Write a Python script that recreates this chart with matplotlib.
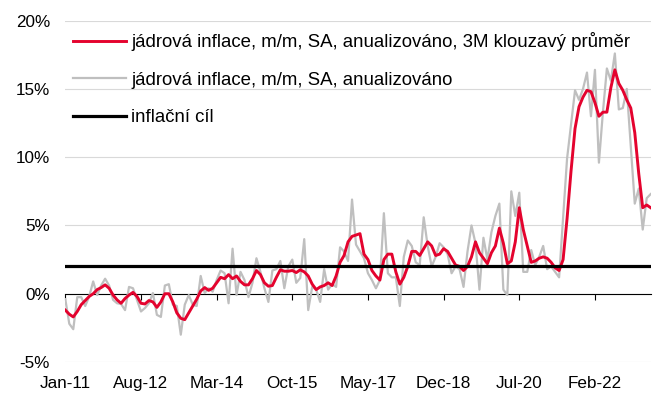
import numpy as np
import pandas as pd
import matplotlib
matplotlib.use('Agg')
import matplotlib.pyplot as plt

# měsíční data, leden 2011 - duben 2023
start_month = '2011-01'

# jádrová inflace, m/m, SA, anualizováno (šedá)
core_mm = [
    -0.4, -2.2, -2.6, -0.25, -0.25, -0.9, -0.2, 0.9, -0.1, 0.6, 1.1, 0.6,      # 2011
    -0.45, -0.7, -0.75, -1.2, 0.5, 0.4, -0.45, -1.3, -1.05, -0.7, 0.05, -1.55, # 2012
    -1.7, 0.6, 0.7, -0.8, -0.9, -3.0, -0.8, -0.1, -0.8, -0.9, 1.3, 0.05,       # 2013
    0.4, 0.15, 1.0, 1.7, 1.5, -0.7, 3.3, -0.1, 1.6, 1.0, -0.25, 0.8,           # 2014
    2.6, 1.6, 0.4, -0.6, 1.7, 1.8, 2.4, 0.4, 2.0, 2.5, 0.8, 1.15,              # 2015
    4.0, -1.2, 0.5, 0.3, -0.6, 1.8, 0.3, 0.7, 0.5, 3.4, 3.1, 2.4,              # 2016
    6.9, 3.6, 3.1, 2.6, 1.5, 1.0, 0.4, 1.0, 5.9, 1.5, 1.2, 1.2,                # 2017
    -0.9, 2.7, 3.9, 3.5, 2.3, 2.1, 5.6, 3.5, 2.0, 2.7, 3.7, 3.4,               # 2018
    2.9, 1.5, 2.0, 1.8, 0.5, 3.1, 5.0, 3.7, 0.3, 4.1, 2.5, 4.5,                # 2019
    5.7, 6.6, 0.3, -0.1, 7.5, 5.7, 7.4, 1.6, 1.6, 3.2, 2.1, 2.7,               # 2020
    3.5, 1.8, 2.0, 1.6, 1.2, 5.5, 9.9, 12.4, 14.9, 14.2, 15.0, 16.2,           # 2021
    13.0, 16.4, 9.6, 13.3, 16.5, 15.6, 17.6, 13.5, 13.6, 15.0, 10.8, 6.6,      # 2022
    7.7, 4.7, 7.0, 7.3,                                                        # 2023
]

# jádrová inflace, m/m, SA, anualizováno, 3M klouzavý průměr (červená)
core_3m = [
    -1.2, -1.5, -1.7, -1.3, -0.8, -0.5, -0.2, 0.0, 0.3, 0.45, 0.65, 0.4,
    -0.1, -0.45, -0.7, -0.35, -0.1, 0.1, -0.2, -0.7, -0.75, -0.5, -0.6, -1.0,
    -0.6, 0.0, 0.0, -0.6, -1.4, -1.8, -1.9, -1.4, -0.9, -0.4, 0.2, 0.45,
    0.25, 0.4, 0.8, 1.2, 1.1, 1.4, 1.1, 1.3, 0.9, 0.65, 0.65, 1.1,
    1.7, 1.4, 0.8, 0.55, 0.6, 1.2, 1.75, 1.65, 1.65, 1.7, 1.55, 1.75,
    1.6, 1.3, 0.7, 0.3, 0.5, 0.6, 0.8, 0.6, 1.3, 2.3, 2.8, 3.8,
    4.2, 4.3, 4.4, 2.9, 2.5, 1.7, 1.3, 1.0, 2.5, 2.9, 2.9, 1.6,
    0.7, 1.2, 2.0, 3.1, 3.1, 2.8, 3.3, 3.8, 3.5, 2.8, 2.9, 3.3,
    3.1, 2.6, 2.1, 2.0, 1.7, 2.0, 2.7, 3.8, 3.0, 2.6, 2.2, 3.0,
    3.5, 4.8, 3.7, 2.2, 2.4, 3.8, 6.3, 4.7, 3.5, 2.3, 2.4, 2.6,
    2.7, 2.6, 2.3, 1.9, 1.7, 2.5, 5.5, 9.0, 12.1, 13.7, 14.4, 14.9,
    14.8, 14.0, 13.0, 13.3, 13.3, 15.1, 16.4, 15.4, 14.9, 14.2, 13.6, 11.8,
    8.8, 6.3, 6.5, 6.3,
]

target_level = 2.0  # inflační cíl ČNB

labels = ['jádrová inflace, m/m, SA, anualizováno, 3M klouzavý průměr',
          'jádrová inflace, m/m, SA, anualizováno',
          'inflační cíl']

months = pd.date_range(start_month, periods=len(core_mm), freq='MS')
x = np.arange(len(months))
target = [target_level] * len(months)

plt.rcParams['font.family'] = ['Liberation Sans', 'DejaVu Sans']
plt.rcParams['font.size'] = 12.3

fig = plt.figure(figsize=(6.57, 4.01), dpi=100)
ax = fig.add_axes([0.0994, 0.0973, 0.8910, 0.8511])

ax.plot(x, core_mm, color='#BFBFBF', lw=1.6, zorder=2, label=labels[1])
ax.plot(x, core_3m, color='#E4032E', lw=2.1, zorder=3, label=labels[0])
ax.plot(x, target, color='black', lw=2.3, zorder=4, label=labels[2])

ax.set_xlim(0, len(months) - 1)
ax.set_ylim(-5, 20)
yt = np.arange(-5, 21, 5)
ax.set_yticks(yt)
ax.set_yticklabels([f'{v}%' for v in yt])
ax.yaxis.grid(True, color='#D9D9D9', lw=0.8)
ax.set_axisbelow(True)

tick_idx = x[::19]
ax.set_xticks(tick_idx)
ax.set_xticklabels([months[i].strftime('%b-%y') for i in tick_idx])

for s in ['top', 'right', 'left']:
    ax.spines[s].set_visible(False)
ax.spines['bottom'].set_position(('data', 0))
ax.spines['bottom'].set_linewidth(0.8)
ax.spines['bottom'].set_zorder(1)
ax.tick_params(axis='x', direction='out', length=4, width=0.8, pad=55, colors='black')
ax.tick_params(axis='y', length=0, pad=11)

handles, labs = ax.get_legend_handles_labels()
order = [1, 0, 2]
ax.legend([handles[i] for i in order], [labs[i] for i in order],
          loc='upper left', bbox_to_anchor=(0.1107, 0.92),
          bbox_transform=fig.transFigure, frameon=False, fontsize=13.4,
          borderpad=0, borderaxespad=0, handlelength=2.87,
          handletextpad=0.27, labelspacing=1.1)

fig.savefig('out.png', dpi=100)
